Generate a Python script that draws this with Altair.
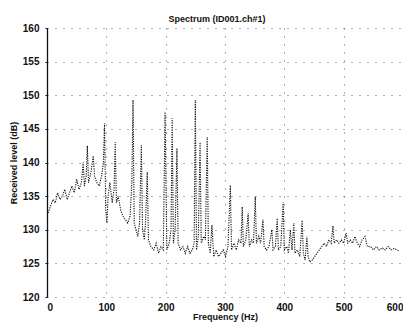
import altair as alt
import pandas as pd

title_text = "Spectrum (ID001.ch#1)"
x_title = "Frequency (Hz)"
y_title = "Received level (dB)"
x_ticks = [0, 100, 200, 300, 400, 500, 600]
y_ticks = [120, 125, 130, 135, 140, 145, 150, 155, 160]

freq = [2, 6, 10, 14, 18, 22, 26, 30, 34, 38, 42, 46, 50, 54, 58, 61, 63, 66, 68, 70,
        74, 78, 80, 84, 88, 92, 95, 97, 99, 101, 103, 106, 110, 113, 115, 117, 120, 124, 128, 132,
        136, 140, 143, 145, 147, 150, 153, 156, 159, 161, 164, 166, 169, 171, 175, 180, 184, 188, 192, 196,
        199, 202, 206, 209, 211, 213, 216, 219, 221, 225, 229, 233, 237, 241, 245, 248, 250, 252, 255, 258,
        260, 264, 267, 270, 272, 275, 278, 281, 285, 289, 293, 297, 301, 305, 309, 311, 315, 319, 323, 327,
        329, 331, 335, 339, 341, 345, 348, 351, 353, 357, 360, 364, 366, 370, 374, 379, 381, 385, 388, 390,
        394, 398, 400, 404, 407, 410, 413, 416, 418, 422, 426, 430, 432, 435, 438, 440, 443, 447, 451, 455,
        459, 463, 467, 471, 475, 479, 482, 484, 488, 492, 496, 500, 504, 507, 511, 515, 519, 523, 527, 531,
        536, 540, 545, 550, 555, 560, 565, 570, 575, 580, 585, 590, 594]
level = [132.5, 133.5, 134.5, 134, 135.5, 134.5, 135, 136, 134.5, 135.5, 136.5, 135.5, 137.5, 136, 137, 140, 136.5, 138, 142.5, 137,
         138.5, 141, 138, 137, 136.5, 138, 140, 145.8, 133, 131, 135, 137, 134, 136, 143, 134, 135, 133, 132, 131.5,
         131, 132, 137, 149.3, 131, 130, 129, 131, 142.6, 130, 128.5, 131, 138.6, 128.5, 127.5, 127, 128, 126.5, 127.5, 127,
         147.5, 127, 128, 130, 146.6, 128, 130, 142.1, 128, 127, 127.5, 126.5, 127.5, 126.5, 127, 128, 149.3, 127, 129, 143,
         128, 129, 128.5, 143.8, 128, 126.5, 130.7, 126, 127, 126, 126.5, 127, 126, 127.5, 136.6, 127, 128, 127, 128.5, 128,
         133.4, 127.5, 128.5, 132.4, 127.5, 128.5, 128, 134.9, 128, 129, 128, 131.5, 127.5, 127, 127.5, 130, 127, 127.5, 131.7, 127,
         127.5, 134.1, 127, 127.5, 126.5, 130, 127, 131, 126.5, 127, 126, 131.4, 126.5, 125.5, 129, 126, 125.2, 125.5, 126, 126.5,
         127, 127.5, 128, 127.5, 128.5, 128, 130.6, 128, 128.5, 128, 128.5, 128, 129.5, 128, 128.5, 128, 129, 128, 127.5, 128.5,
         129, 127.5, 127.5, 127, 127.5, 127, 127.3, 127, 127.5, 127, 127.2, 127, 126.8]

df = pd.DataFrame({"f": freq, "L": level})

FONT = "Liberation Sans"

chart = alt.Chart(df).mark_line(
    color="#111111", strokeWidth=1.1, strokeDash=[1.2, 1.2]
).encode(
    x=alt.X("f:Q", scale=alt.Scale(domain=[0, 600], nice=False, zero=False),
            axis=alt.Axis(values=x_ticks, title=x_title, grid=True, domain=False, ticks=False,
                          labelPadding=5, titlePadding=0, format="d")),
    y=alt.Y("L:Q", scale=alt.Scale(domain=[120, 160], nice=False, zero=False),
            axis=alt.Axis(values=y_ticks, title=y_title, grid=True, domain=True, ticks=True,
                          tickSize=2, labelPadding=6, titlePadding=4, format="d")),
).properties(
    width=356, height=269,
    title=alt.TitleParams(title_text, fontSize=9, font=FONT, fontWeight="bold", color="#111111",
                          offset=-1, dx=-8, frame="group"),
    autosize=alt.AutoSizeParams(type="none"),
    padding={"left": 39, "top": 20, "right": 0, "bottom": 26},
).configure_view(
    stroke=None
).configure_axis(
    labelFont=FONT, labelFontSize=10, labelFontWeight="bold", labelColor="#111111",
    titleFont=FONT, titleFontSize=9, titleFontWeight="bold", titleColor="#111111",
    gridColor="#222222", gridDash=[1, 7], gridWidth=1, gridOpacity=0.7,
    domainColor="#111111", domainWidth=1.3, tickColor="#111111"
)

chart.save("out.html", embed_options={"renderer": "svg", "actions": False})
